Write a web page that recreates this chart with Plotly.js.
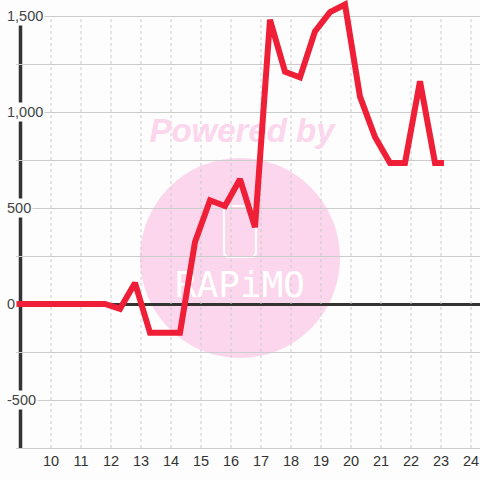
<!DOCTYPE html>
<html>
<head>
<meta charset="utf-8">
<script src="https://cdn.plot.ly/plotly-3.0.1.min.js"></script>
<style>html,body{margin:0;padding:0;background:#fcfdfc;}#chart{width:480px;height:480px;}</style>
</head>
<body>
<div id="chart"></div>
<script>
// ---- data ----
const hours = [8.8, 9.3, 9.8, 10.3, 10.8, 11.3, 11.8, 12.3, 12.8, 13.3, 13.8, 14.3, 14.8, 15.3, 15.8, 16.3, 16.8, 17.3, 17.8, 18.3, 18.8, 19.3, 19.8, 20.3, 20.8, 21.3, 21.8, 22.3, 22.8, 23.1];
const values = [0, 0, 0, 0, 0, 0, 0, -25, 110, -150, -150, -150, 323, 540, 510, 650, 400, 1480, 1210, 1180, 1420, 1520, 1560, 1080, 870, 735, 735, 1160, 735, 735];
const xTickVals = [10, 11, 12, 13, 14, 15, 16, 17, 18, 19, 20, 21, 22, 23, 24];
const xTickText = ["10", "11", "12", "13", "14", "15", "16", "17", "18", "19", "20", "21", "22", "23", "24"];
const yTickVals = [1500, 1000, 500, 0, -500];
const yTickText = ["1,500", "1,000", "500", "0", "-500"];

// ---- geometry ----
const W = 480, H = 480;
const mL = 16, mR = 0, mT = 0, mB = 32;
const pw = W - mL - mR, ph = H - mT - mB;
const xr = [10 - 35 / 30, 10 + (pw - 35) / 30];
const yr = [-750, 304 * 500 / 96];
const BG = '#fcfdfc';
const px = p => (p - mL) / pw;          // pixel -> paper x
const py = p => (H - mB - p) / ph;      // pixel -> paper y
const dataY = p => yr[0] + (H - mB - p) / ph * (yr[1] - yr[0]);
const dataX = p => xr[0] + (p - mL) / pw * (xr[1] - xr[0]);

const shapes = [];
// watermark circle
shapes.push({type: 'circle', xref: 'paper', yref: 'paper', layer: 'below',
  x0: px(140), x1: px(340), y0: py(358), y1: py(158),
  fillcolor: '#fbd6ec', line: {width: 0}});
// watermark logo box
(function () {
  const x0 = 224, x1 = 256, y0 = 206, y1 = 257, r = 5;
  const P = (a, b) => px(a) + ',' + py(b);
  const path = 'M' + P(x0 + r, y0) + ' L' + P(x1 - r, y0) + ' Q' + P(x1, y0) + ' ' + P(x1, y0 + r) +
    ' L' + P(x1, y1 - r) + ' Q' + P(x1, y1) + ' ' + P(x1 - r, y1) + ' L' + P(x0 + r, y1) +
    ' Q' + P(x0, y1) + ' ' + P(x0, y1 - r) + ' L' + P(x0, y0 + r) + ' Q' + P(x0, y0) + ' ' + P(x0 + r, y0) + ' Z';
  shapes.push({type: 'path', xref: 'paper', yref: 'paper', layer: 'below', path: path,
    line: {color: '#ffffff', width: 2}});
})();
// vertical dashed grid lines
xTickVals.forEach(v => shapes.push({type: 'line', xref: 'x', yref: 'y', layer: 'between',
  x0: v, x1: v, y0: yr[0], y1: 1500, line: {color: '#cccccc', width: 1, dash: '3px,3px'}}));
// y axis line
shapes.push({type: 'line', xref: 'paper', yref: 'y', layer: 'between',
  x0: px(20.5), x1: px(20.5), y0: yr[0], y1: 1500, line: {color: '#333333', width: 3.5}});

const annotations = yTickVals.map((v, i) => ({
  xref: 'paper', yref: 'y', x: px(5), y: v, xanchor: 'left', yanchor: 'middle',
  text: yTickText[i], showarrow: false, bgcolor: BG, borderpad: 1,
  font: {family: 'Liberation Sans, Arial, sans-serif', size: 14.5, color: '#444444'}
}));

const traces = [
  {x: [dataX(242)], y: [dataY(134)], mode: 'text', text: ['Powered by'], textposition: 'middle center',
   textfont: {family: 'Liberation Sans, Arial, sans-serif', size: 33, color: '#fbd6ec', weight: 'bold', style: 'italic'},
   hoverinfo: 'skip', showlegend: false, cliponaxis: false},
  {x: [dataX(240)], y: [dataY(288)], mode: 'text', text: ['RAPiMO'], textposition: 'middle center',
   textfont: {family: 'DejaVu Sans Mono, monospace', size: 36, color: '#ffffff'},
   hoverinfo: 'skip', showlegend: false, cliponaxis: false},
  {x: hours, y: values, mode: 'lines', line: {color: '#ee1f36', width: 6},
   hoverinfo: 'skip', showlegend: false}
];

const layout = {
  width: W, height: H,
  margin: {l: mL, r: mR, t: mT, b: mB, pad: 0},
  paper_bgcolor: BG, plot_bgcolor: BG,
  showlegend: false,
  xaxis: {range: xr, tickmode: 'array', tickvals: xTickVals, ticktext: xTickText,
    showgrid: false, zeroline: false, showline: true, linecolor: '#cccccc', linewidth: 1,
    ticks: '', tickfont: {family: 'Liberation Sans, Arial, sans-serif', size: 14.5, color: '#333333'}},
  yaxis: {range: yr, dtick: 250, tick0: 0, showgrid: true, gridcolor: '#cccccc', gridwidth: 1,
    zeroline: true, zerolinecolor: '#333333', zerolinewidth: 3, showticklabels: false, ticks: '', showline: false},
  shapes: shapes,
  annotations: annotations
};

Plotly.newPlot('chart', traces, layout, {staticPlot: true, displayModeBar: false});
</script>
</body>
</html>
